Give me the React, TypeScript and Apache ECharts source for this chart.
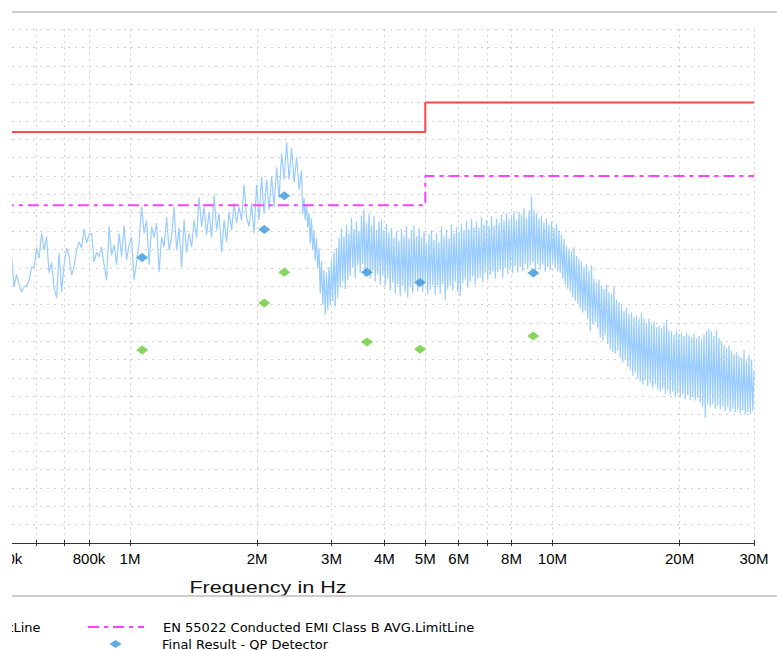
import React, { useEffect, useRef } from 'react';
import * as echarts from 'echarts';

// ---------- data ----------
const QP_LIMIT_NAME = 'EN 55022 Conducted EMI Class B QP.LimitLine';
const AVG_LIMIT_NAME = 'EN 55022 Conducted EMI Class B AVG.LimitLine';
const QP_NAME = 'Final Result - QP Detector';
const AVG_NAME = 'Final Result - AVG Detector';

// limit lines: [MHz, dBµV]
const qpLimitMHz = [0.5, 5, 5, 30];
const qpLimitDb = [56, 56, 60, 60];
const avgLimitMHz = [0.5, 5, 5, 30];
const avgLimitDb = [46, 46, 50, 50];

// final measurement results
const finalMHz = [1.069, 2.079, 2.319, 3.64, 4.86, 9.01];
const finalQpDb = [38.9, 42.7, 47.3, 36.9, 35.5, 36.8];
const finalAvgDb = [26.3, 32.7, 36.9, 27.4, 26.4, 28.2];

// pre-scan trace, sweep segment 1 (coarse, logarithmic steps from 0.5245 MHz)
const SEG1_START_MHZ = 0.5245;
const SEG1_STEP_DECADES = 0.005918;
const traceSeg1Db = [
  39.0, 34.9, 36.6, 35.2, 34.2, 34.9, 35.0, 35.8, 37.6, 37.5,
  40.2, 38.8, 42.2, 39.9, 41.7, 36.8, 38.2, 34.7, 33.4, 39.5,
  34.2, 37.9, 40.2, 39.1, 36.5, 37.7, 39.9, 41.0, 40.2, 42.8,
  40.9, 42.0, 42.2, 38.3, 39.6, 39.0, 40.3, 37.9, 35.8, 43.1,
  39.2, 40.6, 37.9, 42.2, 39.0, 43.3, 38.6, 40.6, 41.7, 35.8,
  38.3, 40.9, 45.8, 42.2, 44.0, 37.9, 43.1, 41.6, 43.6, 36.9,
  41.7, 40.3, 44.4, 39.9, 41.7, 45.8, 39.9, 42.9, 37.6, 44.0,
  39.6, 42.2, 40.3, 44.0, 41.6, 47.1, 43.1, 45.8, 42.0, 45.1,
  41.6, 47.4, 42.6, 44.9, 39.6, 44.0, 41.0, 45.1, 42.6, 46.3,
  43.6, 45.8, 44.0, 48.8, 44.4, 43.1, 46.3, 42.2, 48.8, 44.0,
  49.9, 44.9, 49.5, 45.4, 49.9, 45.8, 51.2, 47.0, 53.1, 49.5,
  54.6, 49.5, 53.8, 49.1, 52.6, 48.1,
];

// pre-scan trace, sweep segment 2 (fine, logarithmic steps ending at 30 MHz)
const SEG2_STOP_MHZ = 30;
const SEG2_STEP_DECADES = 0.002959;
const traceSeg2Db = [
  50.8, 44.8, 47.0, 44.0, 46.2, 43.0, 45.0,
  40.8, 44.2, 39.9, 42.6, 38.5, 41.5, 37.4, 40.2,
  34.0, 38.4, 32.5, 37.2, 31.1, 36.8, 31.8, 37.6,
  32.4, 38.6, 33.0, 39.6, 32.2, 40.2, 33.4, 41.6,
  34.8, 42.9, 35.6, 41.8, 34.6, 43.4, 35.8, 42.2,
  36.4, 44.3, 37.5, 42.8, 36.1, 43.9, 37.8, 42.5,
  36.8, 44.6, 38.0, 45.4, 36.2, 43.6, 37.4, 44.9,
  36.0, 43.3, 37.1, 44.5, 35.6, 42.7, 36.6, 43.8,
  35.2, 44.1, 36.4, 42.6, 35.0, 43.5, 36.0, 42.3,
  34.4, 42.9, 35.5, 41.6, 34.0, 42.4, 35.2, 41.2,
  33.6, 42.8, 35.0, 41.9, 34.2, 43.2, 33.4, 41.5,
  34.8, 42.6, 34.1, 43.3, 35.4, 41.8, 34.3, 42.9,
  35.1, 41.7, 34.2, 42.5, 35.6, 40.9, 33.9, 42.1,
  34.5, 42.6, 35.2, 41.3, 33.8, 42.2, 34.9, 41.0,
  34.0, 43.1, 35.3, 41.8, 33.1, 42.7, 34.6, 41.5,
  35.0, 43.4, 34.4, 42.2, 35.6, 43.0, 34.2, 42.4,
  33.6, 43.5, 35.4, 42.6, 35.9, 43.9, 34.8, 42.8,
  35.6, 44.2, 36.3, 43.0, 35.2, 43.8, 36.0, 42.9,
  36.2, 44.4, 35.5, 43.4, 36.8, 44.0, 35.9, 43.2,
  36.5, 44.5, 37.0, 43.3, 36.0, 44.2, 36.9, 43.6,
  37.2, 44.8, 36.1, 43.9, 37.5, 45.0, 36.6, 44.1,
  37.4, 44.6, 36.8, 45.2, 37.7, 44.0, 36.9, 45.1,
  37.6, 44.7, 37.0, 45.6, 38.0, 44.3, 37.3, 45.3,
  37.8, 47.2, 38.2, 45.4, 37.1, 44.9, 38.0, 44.2,
  37.3, 44.5, 37.9, 43.6, 37.0, 44.2, 37.6, 43.4,
  37.2, 43.8, 38.1, 42.9, 37.4, 43.5, 37.0, 42.6,
  36.8, 42.0, 36.0, 41.4, 35.2, 40.5, 34.6, 40.1,
  34.2, 39.8, 33.5, 40.3, 33.0, 39.1, 32.6, 38.7,
  32.0, 38.4, 31.4, 37.6, 31.6, 38.0, 30.5, 37.1,
  28.8, 37.8, 29.8, 36.0, 30.1, 35.5, 29.2, 35.9,
  28.0, 35.0, 27.6, 34.6, 28.3, 35.2, 27.1, 34.2,
  26.4, 34.0, 26.0, 34.9, 25.8, 33.2, 26.2, 32.8,
  25.2, 32.4, 24.6, 31.6, 24.9, 32.0, 24.0, 31.2,
  23.6, 31.4, 22.8, 30.8, 23.2, 31.0, 22.4, 30.6,
  22.0, 31.4, 21.6, 30.5, 22.2, 30.0, 21.4, 30.6,
  21.8, 29.8, 21.1, 30.2, 21.6, 29.4, 20.9, 29.6,
  20.6, 29.2, 21.0, 29.7, 20.3, 30.4, 20.8, 29.0,
  20.2, 28.8, 20.6, 28.4, 19.9, 29.0, 20.4, 28.5,
  19.8, 28.6, 20.3, 28.2, 19.6, 28.7, 20.1, 28.3,
  19.5, 28.1, 19.9, 28.5, 19.4, 27.9, 19.8, 28.2,
  19.1, 27.8, 18.6, 28.4, 17.1, 28.9, 18.9, 29.2,
  18.5, 28.8, 18.9, 28.2, 18.3, 29.0, 18.7, 27.9,
  18.2, 27.4, 18.6, 27.0, 18.0, 26.6, 18.5, 26.9,
  17.9, 26.2, 18.3, 25.7, 17.8, 26.0, 18.2, 25.5,
  17.7, 25.2, 18.1, 26.3, 17.5, 24.8, 17.9, 25.6,
  17.6, 25.0, 18.0, 23.5,
];

// axis ticks (Hz)
const tickHz = [6e5, 7e5, 8e5, 1e6, 2e6, 3e6, 4e6, 5e6, 6e6, 7e6, 8e6, 1e7, 2e7, 3e7];
const labelHz = [8e5, 1e6, 2e6, 3e6, 4e6, 5e6, 6e6, 8e6, 1e7, 2e7, 3e7];
const firstLabelHz = 5e5;
const X_MIN_HZ = 525700;
const X_MAX_HZ = 3e7;

// ---------- helpers ----------
const lg = (hz: number) => Math.log10(hz);
const mhzToX = (mhz: number) => Math.log10(mhz * 1e6);
const fmtHz = (v: number) => {
  const f = Math.round(Math.pow(10, v));
  if (f >= 1e6) return Math.round(f / 1e6) + 'M';
  return Math.round(f / 1e3) + 'k';
};
const pairs = (xs: number[], ys: number[]) => xs.map((x, i) => [mhzToX(x), ys[i]]);

const FONT = "'Liberation Sans', Arial, Helvetica, sans-serif";
const LEGEND_FONT = "'DejaVu Sans', Verdana, sans-serif";

export default function App() {
  const ref = useRef<HTMLDivElement>(null);

  useEffect(() => {
    if (!ref.current) return;
    const chart = echarts.init(ref.current, undefined, { renderer: 'svg' });

    const seg1 = traceSeg1Db.map((db, i) => [
      mhzToX(SEG1_START_MHZ * Math.pow(10, i * SEG1_STEP_DECADES)),
      db,
    ]);
    const n2 = traceSeg2Db.length;
    const seg2 = traceSeg2Db.map((db, j) => [
      mhzToX(SEG2_STOP_MHZ * Math.pow(10, -(n2 - 1 - j) * SEG2_STEP_DECADES)),
      db,
    ]);
    const trace = seg1.concat(seg2);

    const gridTop = 29.2;
    const gridBottom = 107;

    const legendText = {
      fontSize: 13,
      lineHeight: 13,
      color: '#000000',
      fontFamily: LEGEND_FONT,
    };

    chart.setOption({
      animation: false,
      backgroundColor: '#ffffff',
      textStyle: { fontFamily: FONT },
      grid: [
        {
          left: 12, right: 23, top: gridTop, bottom: gridBottom,
          containLabel: false, outerBoundsMode: 'none',
        },
        {
          left: 6, right: 23, top: gridTop, bottom: gridBottom,
          containLabel: false, outerBoundsMode: 'none', show: false,
        },
      ],
      xAxis: [
        {
          gridIndex: 0,
          type: 'value',
          min: lg(X_MIN_HZ),
          max: lg(X_MAX_HZ),
          axisLine: { show: true, onZero: false, lineStyle: { color: '#333333', width: 1 } },
          axisTick: {
            show: true,
            length: 3,
            customValues: tickHz.map(lg),
            lineStyle: { color: '#333333', width: 1 },
          },
          axisLabel: {
            show: true,
            customValues: labelHz.map(lg),
            formatter: fmtHz,
            margin: 8,
            fontSize: 15,
            color: '#000000',
            fontFamily: FONT,
          },
          splitLine: {
            show: true,
            lineStyle: { color: '#cfcfcf', width: 1, type: [2, 4] },
          },
        },
        {
          gridIndex: 1,
          type: 'value',
          min: lg(firstLabelHz),
          max: lg(X_MAX_HZ),
          axisLine: { show: false },
          axisTick: { show: false },
          splitLine: { show: false },
          axisLabel: {
            show: true,
            customValues: [lg(firstLabelHz)],
            formatter: fmtHz,
            margin: 8,
            fontSize: 15,
            color: '#000000',
            fontFamily: FONT,
          },
        },
        {
          // upper half of the crossing tick marks
          gridIndex: 0,
          type: 'value',
          position: 'bottom',
          min: lg(X_MIN_HZ),
          max: lg(X_MAX_HZ),
          axisLine: { show: false, onZero: false },
          axisTick: {
            show: true,
            inside: true,
            length: 3,
            customValues: tickHz.map(lg),
            lineStyle: { color: '#333333', width: 1 },
          },
          axisLabel: { show: false },
          splitLine: { show: false },
        },
      ],
      yAxis: [
        {
          gridIndex: 0,
          type: 'value',
          min: 0,
          max: 70,
          interval: 2.5,
          axisLine: { show: false },
          axisTick: { show: false },
          axisLabel: { show: false },
          splitLine: {
            show: true,
            lineStyle: { color: '#cfcfcf', width: 1, type: [2, 5] },
          },
        },
        { gridIndex: 1, type: 'value', min: 0, max: 70, show: false },
      ],
      legend: [
        {
          data: [{ name: QP_LIMIT_NAME, itemStyle: { opacity: 0 } }],
          right: 777 - 40.5,
          top: 620.6,
          padding: 0,
          itemWidth: 56,
          itemHeight: 12,
          selectedMode: false,
          textStyle: { ...legendText, padding: [0, 0, 0, 14] },
        },
        {
          data: [{ name: AVG_LIMIT_NAME, itemStyle: { opacity: 0 } }],
          left: 87,
          top: 620.6,
          padding: 0,
          itemWidth: 56,
          itemHeight: 12,
          selectedMode: false,
          textStyle: { ...legendText, padding: [0, 0, 0, 14] },
        },
        {
          data: [QP_NAME],
          left: 109.5,
          top: 637.6,
          padding: 0,
          itemWidth: 12,
          itemHeight: 8,
          selectedMode: false,
          textStyle: { ...legendText, padding: [0, 0, 0, 35.5] },
        },
      ],
      graphic: [
        {
          type: 'line',
          shape: { x1: 12, y1: 12, x2: 777, y2: 12 },
          style: { stroke: '#bdbdbd', lineWidth: 1.3 },
          z: 50,
        },
        {
          type: 'line',
          shape: { x1: 12, y1: 596, x2: 777, y2: 596 },
          style: { stroke: '#bdbdbd', lineWidth: 1.3 },
          z: 50,
        },
        {
          type: 'text',
          x: 268,
          y: 588,
          scaleX: 1.35,
          style: {
            text: 'Frequency in Hz',
            fontSize: 16,
            fontFamily: FONT,
            fill: '#111111',
            align: 'center',
            verticalAlign: 'middle',
          },
          z: 40,
        },
        {
          type: 'rect',
          shape: { x: 0, y: 0, width: 12, height: 650 },
          style: { fill: '#ffffff' },
          z: 100,
        },
      ],
      series: [
        {
          name: 'Preview Result',
          type: 'line',
          xAxisIndex: 0,
          yAxisIndex: 0,
          data: trace,
          symbol: 'none',
          showSymbol: false,
          lineStyle: { color: '#99ccff', width: 1.2 },
          silent: true,
          z: 1,
        },
        {
          name: QP_LIMIT_NAME,
          type: 'line',
          xAxisIndex: 0,
          yAxisIndex: 0,
          data: pairs(qpLimitMHz, qpLimitDb),
          symbol: 'none',
          showSymbol: false,
          itemStyle: { color: '#ff4848' },
          lineStyle: { color: '#ff4848', width: 2 },
          z: 3,
        },
        {
          name: AVG_LIMIT_NAME,
          type: 'line',
          xAxisIndex: 0,
          yAxisIndex: 0,
          data: pairs(avgLimitMHz, avgLimitDb),
          symbol: 'none',
          showSymbol: false,
          itemStyle: { color: '#ff40ff' },
          lineStyle: { color: '#ff40ff', width: 2, type: [11, 5, 4, 5] },
          z: 3,
        },
        {
          name: QP_NAME,
          type: 'scatter',
          xAxisIndex: 0,
          yAxisIndex: 0,
          data: pairs(finalMHz, finalQpDb),
          symbol: 'diamond',
          symbolSize: [12, 9],
          itemStyle: { color: '#3a95dc' },
          z: 5,
        },
        {
          name: AVG_NAME,
          type: 'scatter',
          xAxisIndex: 0,
          yAxisIndex: 0,
          data: pairs(finalMHz, finalAvgDb),
          symbol: 'diamond',
          symbolSize: [12, 9],
          itemStyle: { color: '#66cc33' },
          z: 5,
        },
      ],
    });

    return () => {
      chart.dispose();
    };
  }, []);

  return (
    <div
      ref={ref}
      style={{ position: 'absolute', left: 0, top: 0, width: 777, height: 650 }}
    />
  );
}
